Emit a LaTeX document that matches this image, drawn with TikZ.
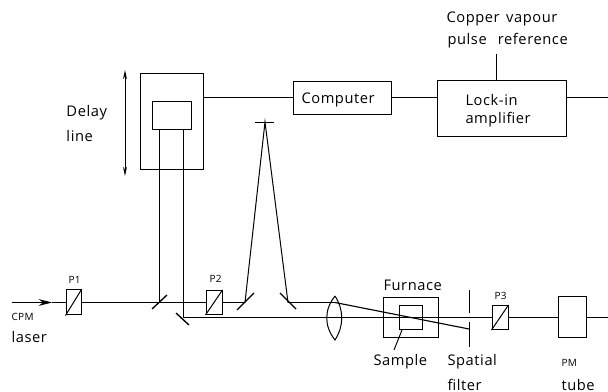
\documentclass[tikz,border=0pt]{standalone}
\usepackage{fontspec}
\setmainfont[LetterSpace=4]{Open Sans}
\usetikzlibrary{arrows.meta}
\tikzset{every picture/.style={line width=0.75pt}}
\tikzset{
  unitbox/.style={draw,inner sep=0pt,minimum width=#1},
  unitbox/.default=10pt,
  beam/.style={line width=0.85pt},
  label/.style={anchor=west,inner sep=0.75pt,font=\fontsize{11pt}{12pt}\selectfont},
  small/.style={anchor=west,inner sep=0.75pt,font=\fontsize{7.5pt}{9pt}\selectfont}
}
\begin{document}
\begin{tikzpicture}[x=0.75pt,y=0.75pt,yscale=-1,xscale=1]
\useasboundingbox (0,0) rectangle (608,392);

% Boxes
\node [unitbox=47.25pt,minimum height=72pt] (delayout) at (171.5,122) {};
\node [unitbox=29.25pt,minimum height=21pt] (delayin) at (171.5,116) {};
\node [unitbox=73.5pt,minimum height=24.75pt] (computer) at (342,98.5) {};
\node [unitbox=96.75pt,minimum height=42pt] (lockin) at (501.5,109) {};
\node [unitbox=11.25pt,minimum height=18.75pt] (pone) at (73.5,302.5) {};
\node [unitbox=12pt,minimum height=18pt] (ptwo) at (214,302.5) {};
\node [unitbox=12pt,minimum height=18pt] (pthree) at (500,317.5) {};
\node [unitbox=41.25pt,minimum height=30pt] (furnace) at (410.5,318) {};
\node [unitbox=17.25pt,minimum height=18pt] (sample) at (410.5,318) {};
\node [unitbox=21pt,minimum height=30.75pt] (pmtube) at (572,317.5) {};

% Beam points
\coordinate (laser) at (12,302.5);
\coordinate (laserhead) at (52,302.5);
\coordinate (splitter) at (159,302.5);
\coordinate (retro) at (183,317.5);
\coordinate (mirrorb) at (245,302.5);
\coordinate (mirrorc) at (288,302.5);
\coordinate (top) at (265,122);
\coordinate (lenstop) at (335,296);
\coordinate (lensbot) at (335,340);
\coordinate (lensmid) at (335,302.5);
\coordinate (stop) at (469,329);
\coordinate (sampletip) at (394,350);
\coordinate (samplefoot) at (402,330);
\coordinate (refend) at (496,54);
\coordinate (rightup) at (608,97.5);
\coordinate (rightlow) at (608,317.5);

% Polarisers
\draw (pone.south west) -- (pone.north east);
\draw (ptwo.south west) -- (ptwo.north east);
\draw (pthree.south west) -- (pthree.north east);

% Main beam
\draw [beam,-{Stealth[length=10pt,width=5pt]}] (laser) -- (laserhead);
\draw [beam] (laserhead) -- (pone.west);
\draw [beam] (pone.east) -- (splitter) -- (ptwo.west);
\draw [beam] (ptwo.east) -- (mirrorb);
\draw [beam] (mirrorc) -- (lensmid);
\draw [beam] (lensmid) -- (stop);
\draw (mirrorb) -- (top) -- (mirrorc);

% Delay arm
\draw (splitter) -- (splitter |- delayin.south);
\draw (retro) -- (retro |- delayin.south);
\draw [beam] (retro) -- (pthree.west);
\draw [beam] (pthree.east) -- (pmtube.west);
\draw [beam] (pmtube.east) -- (rightlow);

% Mirrors
\draw [line width=1pt] (152,309) -- (167,295);
\draw [line width=1pt] (176,313) -- (189,325);
\draw [line width=1pt] (237,310) -- (254,293);
\draw [line width=1pt] (280,293) -- (296,309);
\draw [line width=1pt] (255,122.5) -- (274,122.5);

% Lens
\draw (lenstop) .. controls (324,310) and (324,326) .. (lensbot) .. controls (344,326) and (344,310) .. (lenstop);

% Spatial filter
\draw (469,290) -- (469,313);
\draw (469,322) -- (469,347);

% Delay travel
\draw [{Stealth[length=7pt,width=3pt]}-{Stealth[length=7pt,width=3pt]}] (125,70) -- (125,176);

% Signal lines
\draw [beam] (delayout.east |- rightup) -- (computer.west |- rightup);
\draw [beam] (computer.east |- rightup) -- (lockin.west |- rightup);
\draw [beam] (rightup) -- (rightup -| lockin.east);
\draw (refend) -- (refend |- lockin.north);
\draw (sampletip) -- (samplefoot);

% Text Node
\node [label] (delaytext) at (65,113) {Delay};
\node [label] (linetext) at (65,136) {line};
\node [label] (computertext) at (300,100) {Computer};
\node [label] (lockintext) at (464,100) {Lock-in};
\node [label] (amptext) at (464,120) {amplifier};
\node [label] (coppertext) at (445,19) {Copper\hspace{1.5pt} vapour};
\node [label] (pulsetext) at (446,41) {pulse\hspace{5pt} reference};
\node [label] (furnacetext) at (382,285) {Furnace};
\node [label] (sampletext) at (372,362) {Sample};
\node [label] (spatialtext) at (446,362) {Spatial};
\node [label] (filtertext) at (446,385) {filter};
\node [label] (tubetext) at (560,385) {tube};
\node [label] (lasertext) at (10,337) {laser};
\node [small] (cpmtext) at (10,317) {CPM};
\node [small] (ponetext) at (67,280) {P1};
\node [small] (ptwotext) at (208,279) {P2};
\node [small] (pthreetext) at (493,296) {P3};
\node [small] (pmtext) at (560,363) {PM};
\end{tikzpicture}
\end{document}
